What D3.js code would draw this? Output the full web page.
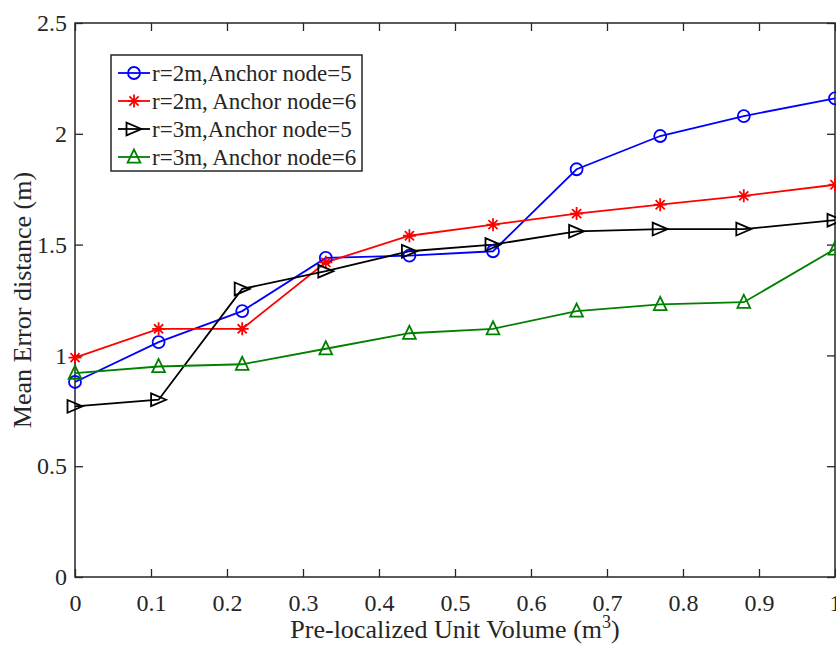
<!DOCTYPE html>
<html>
<head>
<meta charset="utf-8">
<script src="https://cdn.jsdelivr.net/npm/d3@7"></script>
<style>
  html, body { margin: 0; padding: 0; background: #fff; }
  svg { display: block; }
  text { font-family: "Liberation Serif", "Times New Roman", serif; fill: #262626; }
</style>
</head>
<body>
<svg id="chart" width="836" height="647"></svg>
<script>
// Pre-localized unit volume (m^3)
const volumes = [0, 0.11, 0.22, 0.33, 0.44, 0.55, 0.66, 0.77, 0.88, 1.0];

// Mean error distance (m) for each configuration
const r2Anchor5 = [0.88, 1.06, 1.20, 1.44, 1.45, 1.47, 1.84, 1.99, 2.08, 2.16];
const r2Anchor6 = [0.99, 1.12, 1.12, 1.42, 1.54, 1.59, 1.64, 1.68, 1.72, 1.77];
const r3Anchor5 = [0.77, 0.80, 1.30, 1.38, 1.47, 1.50, 1.56, 1.57, 1.57, 1.61];
const r3Anchor6 = [0.92, 0.95, 0.96, 1.03, 1.10, 1.12, 1.20, 1.23, 1.24, 1.48];

const seriesNames = ["r=2m,Anchor node=5", "r=2m, Anchor node=6", "r=3m,Anchor node=5", "r=3m, Anchor node=6"];
const seriesColors = ["#0000ff", "#ff0000", "#000000", "#008000"];
const seriesMarkers = ["circle", "asterisk", "triangleRight", "triangleUp"];

const xTicks = [0, 0.1, 0.2, 0.3, 0.4, 0.5, 0.6, 0.7, 0.8, 0.9, 1];
const yTicks = [0, 0.5, 1, 1.5, 2, 2.5];

const series = [r2Anchor5, r2Anchor6, r3Anchor5, r3Anchor6].map((vals, i) => ({
  name: seriesNames[i], color: seriesColors[i], marker: seriesMarkers[i],
  points: vals.map((v, j) => ({ x: volumes[j], y: v }))
}));

const margin = { left: 75, right: 1, top: 23, bottom: 70 };
const W = 836, H = 647;
const svg = d3.select("#chart");

const x = d3.scaleLinear().domain([0, 1]).range([margin.left, W - margin.right]);
const y = d3.scaleLinear().domain([0, 2.5]).range([H - margin.bottom, margin.top]);

const axisColor = "#262626";
const tickLen = 8;

// Frame
svg.append("rect")
  .attr("x", x(0)).attr("y", y(2.5))
  .attr("width", x(1) - x(0)).attr("height", y(0) - y(2.5))
  .attr("fill", "none").attr("stroke", axisColor).attr("stroke-width", 1.5);

// Axes with inward ticks, mirrored on top and right
function styleAxis(g) {
  g.select(".domain").remove();
  g.selectAll(".tick line").attr("stroke", axisColor).attr("stroke-width", 1.3);
  g.selectAll(".tick text").attr("fill", axisColor)
    .style("font-family", '"Liberation Serif", "Times New Roman", serif')
    .style("font-size", "24px");
}
const fmt = d => String(d);

svg.append("g").attr("transform", `translate(0,${y(0)})`)
  .call(d3.axisBottom(x).tickValues(xTicks).tickFormat(fmt).tickSizeInner(-tickLen).tickSizeOuter(0).tickPadding(17))
  .call(styleAxis);
svg.append("g").attr("transform", `translate(0,${y(2.5)})`)
  .call(d3.axisTop(x).tickValues(xTicks).tickFormat("").tickSizeInner(-tickLen).tickSizeOuter(0))
  .call(styleAxis);
svg.append("g").attr("transform", `translate(${x(0)},0)`)
  .call(d3.axisLeft(y).tickValues(yTicks).tickFormat(fmt).tickSizeInner(-tickLen).tickSizeOuter(0).tickPadding(8))
  .call(styleAxis);
svg.append("g").attr("transform", `translate(${x(1)},0)`)
  .call(d3.axisRight(y).tickValues(yTicks).tickFormat("").tickSizeInner(-tickLen).tickSizeOuter(0))
  .call(styleAxis);

// Axis labels
const xl = svg.append("text")
  .attr("x", (x(0) + x(1)) / 2).attr("y", 638)
  .attr("text-anchor", "middle").style("font-size", "26px");
xl.append("tspan").text("Pre-localized Unit Volume (m");
xl.append("tspan").attr("dy", -10).style("font-size", "18px").text("3");
xl.append("tspan").attr("dy", 10).text(")");

svg.append("text")
  .attr("transform", `translate(31,${(y(0) + y(2.5)) / 2}) rotate(-90)`)
  .attr("text-anchor", "middle").style("font-size", "26px")
  .text("Mean Error distance (m)");

// Marker drawing
function drawMarker(g, type, color) {
  const sw = 1.8;
  if (type === "circle") {
    g.append("circle").attr("r", 6).attr("fill", "none").attr("stroke", color).attr("stroke-width", sw);
  } else if (type === "asterisk") {
    const r = 6.5;
    const d = `M${-r},0L${r},0M0,${-r}L0,${r}M${-r*0.7},${-r*0.7}L${r*0.7},${r*0.7}M${-r*0.7},${r*0.7}L${r*0.7},${-r*0.7}`;
    g.append("path").attr("d", d).attr("stroke", color).attr("stroke-width", sw).attr("fill", "none");
  } else if (type === "triangleRight") {
    const r = 7.5;
    g.append("path").attr("d", `M${r},0L${-r},${-r*0.85}L${-r},${r*0.85}Z`)
      .attr("fill", "none").attr("stroke", color).attr("stroke-width", sw);
  } else if (type === "triangleUp") {
    const r = 7.5;
    g.append("path").attr("d", `M0,${-r}L${-r*0.85},${r*0.75}L${r*0.85},${r*0.75}Z`)
      .attr("fill", "none").attr("stroke", color).attr("stroke-width", sw);
  }
}

// Series lines and markers
const line = d3.line().x(d => x(d.x)).y(d => y(d.y));
const plot = svg.append("g");
series.forEach(s => {
  plot.append("path").datum(s.points)
    .attr("d", line).attr("fill", "none")
    .attr("stroke", s.color).attr("stroke-width", 1.8);
});
series.forEach(s => {
  s.points.forEach(p => {
    const g = plot.append("g").attr("transform", `translate(${x(p.x)},${y(p.y)})`);
    drawMarker(g, s.marker, s.color);
  });
});

// Legend
const lg = svg.append("g").attr("transform", "translate(111,55)");
lg.append("rect").attr("width", 251).attr("height", 116)
  .attr("fill", "#fff").attr("stroke", axisColor).attr("stroke-width", 1.5);
series.forEach((s, i) => {
  const cy = 18 + i * 28;
  lg.append("line").attr("x1", 7).attr("x2", 39).attr("y1", cy).attr("y2", cy)
    .attr("stroke", s.color).attr("stroke-width", 1.8);
  const m = lg.append("g").attr("transform", `translate(23,${cy})`);
  drawMarker(m, s.marker, s.color);
  lg.append("text").attr("x", 41).attr("y", cy + 8)
    .style("font-size", "23px").attr("fill", "#000").text(s.name);
});
</script>
</body>
</html>
